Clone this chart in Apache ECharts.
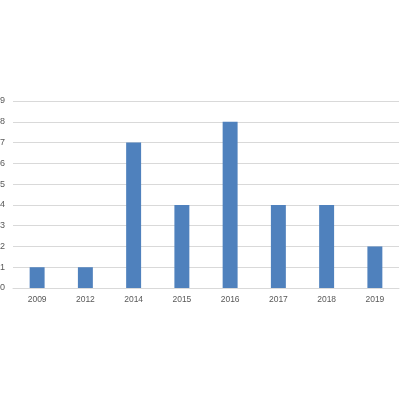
<!DOCTYPE html>
<html><head><meta charset="utf-8">
<script src="https://cdn.jsdelivr.net/npm/echarts@6/dist/echarts.min.js"></script>
<style>html,body{margin:0;padding:0;background:#fff}#c{width:400px;height:400px}</style>
</head><body><div id="c"></div>
<script>
const categories = ['2009','2012','2014','2015','2016','2017','2018','2019'];
const values = [1,1,7,4,8,4,4,2];
const yTicks = {min:0, max:9, interval:1};
const chart = echarts.init(document.getElementById('c'), null, {renderer:'canvas'});
chart.setOption({
  animation:false,
  grid:{left:13, right:1, top:101, bottom:112, containLabel:false, outerBoundsMode:'none'},
  xAxis:{type:'category', data:categories,
    axisLine:{lineStyle:{color:'#d9d9d9', width:1}},
    axisTick:{show:false},
    axisLabel:{color:'#595959', fontSize:8.5, fontFamily:'Liberation Sans', margin:7}},
  yAxis:{type:'value', min:yTicks.min, max:yTicks.max, interval:yTicks.interval,
    axisLine:{show:false}, axisTick:{show:false},
    splitLine:{lineStyle:{color:'#d9d9d9', width:1}},
    axisLabel:{color:'#595959', fontSize:9, fontFamily:'Liberation Sans', margin:8}},
  series:[{type:'bar', data:values, barWidth:'31%',
    itemStyle:{color:'#4f81bd'}}]
});
</script></body></html>
